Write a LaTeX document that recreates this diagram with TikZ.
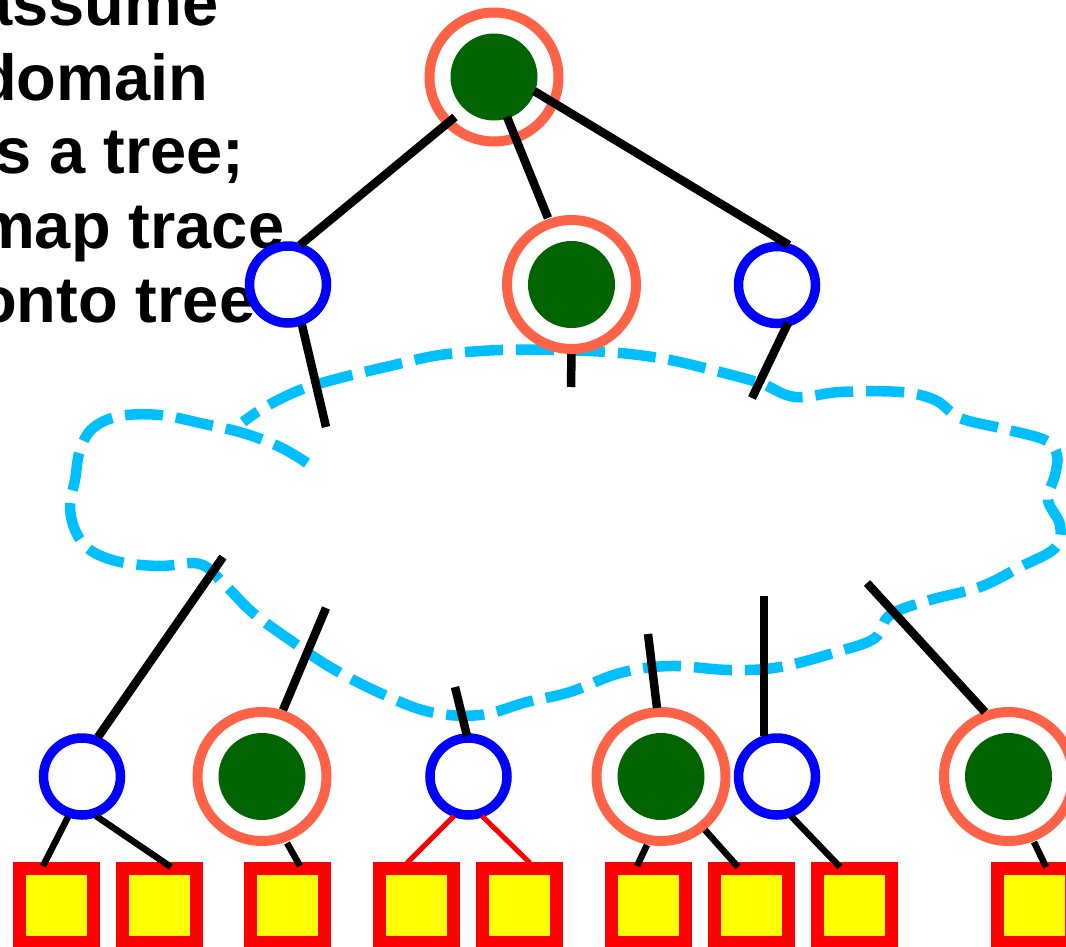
\documentclass[tikz,border=0pt]{standalone}
\usepackage{fontspec}
\setmainfont{Liberation Sans}
\usetikzlibrary{calc}
\definecolor{ringc}{RGB}{255,99,71}
\definecolor{dgreen}{RGB}{0,100,0}
\definecolor{cloudc}{RGB}{0,191,255}
\definecolor{leaffill}{RGB}{255,255,0}
\definecolor{leafred}{RGB}{255,0,0}
\definecolor{nodeblue}{RGB}{0,0,255}
\begin{document}
\begin{tikzpicture}[x=1pt,y=-1pt,
 bnode/.style={circle,draw=nodeblue,fill=white,line width=9.5pt,minimum size=77pt,inner sep=0pt},
 dnode/.style={circle,draw=ringc,fill=white,line width=10pt,minimum size=129pt,inner sep=0pt,
   path picture={\fill[dgreen] (path picture bounding box.center) circle[radius=43.5pt];}},
 leaf/.style={rectangle,draw=leafred,fill=leaffill,line width=13pt,minimum size=74pt,inner sep=0pt},
 edgeA/.style={line width=8.5pt,draw=black},
 edgeB/.style={line width=6.5pt,draw=black},
 edgeR/.style={line width=5pt,draw=leafred},
 tracecloud/.style={draw=cloudc,line width=10.5pt,dash pattern=on 38pt off 13pt},
 lbl/.style={anchor=base west,inner sep=0pt,font=\fontsize{65}{74}\selectfont\bfseries}]
\useasboundingbox (0,0) rectangle (1066,946);
\clip (0,0) rectangle (1066,946);

% text
\node[lbl] (t1) at (-24,25) {assume};
\node[lbl] (t2) at (-23,100) {domain};
\node[lbl] (t3) at (-5,173) {s a tree;};
\node[lbl] (t4) at (-23,248) {map trace};
\node[lbl] (t5) at (-23,322) {onto tree};

% cloud (trace)
\draw[tracecloud] plot[smooth,tension=0.6] coordinates {
 (307,463) (280,447) (243,433) (200,423) (160,415) (120,416) (93,428) (80,450)
 (75,480) (70,505) (75,530) (90,550) (120,562) (160,566) (200,564) (225,585)
 (253,613) (290,640) (330,667) (380,693) (430,712) (480,715) (527,702) (570,692)
 (620,673) (670,666) (730,670) (780,667) (840,651) (875,638) (890,615) (930,600)
 (980,587) (1020,567) (1055,548) (1060,525) (1048,500) (1055,475) (1057,455)
 (1045,440) (1000,428) (960,418) (935,400) (900,392) (840,392) (795,397) (760,383)
 (720,372) (670,360) (620,353) (560,350) (500,350) (440,355) (390,366) (340,378)
 (300,390) (265,407) (243,422)};

% nodes
\node[dnode] (r) at (494,77) {};
\node[bnode] (bL) at (288,284.5) {};
\node[dnode] (dM) at (571.5,284.5) {};
\node[bnode] (bR) at (777,285) {};

\node[bnode] (b1) at (82,776.5) {};
\node[dnode] (d1) at (262,776.5) {};
\node[bnode] (b3) at (468.5,776.5) {};
\node[dnode] (d2) at (661,776.5) {};
\node[bnode] (b4) at (777,776.5) {};
\node[dnode] (d3) at (1008.5,776.5) {};

\node[leaf] (s1) at (56.5,905.5) {};
\node[leaf] (s2) at (159.5,905.5) {};
\node[leaf] (s3) at (287.5,905.5) {};
\node[leaf] (s4) at (416.5,905.5) {};
\node[leaf] (s5) at (519.5,905.5) {};
\node[leaf] (s6) at (648.5,905.5) {};
\node[leaf] (s7) at (751,905.5) {};
\node[leaf] (s8) at (854.5,905.5) {};
\node[leaf] (s9) at (1034.5,905.5) {};

% free ends of edges that disappear into the trace
\coordinate (cL) at (326,427);
\coordinate (cM) at (571,387);
\coordinate (cR) at (752,398);
\coordinate (c1) at (223,557);
\coordinate (c2) at (326,608);
\coordinate (c3) at (455,687);
\coordinate (c4) at (648,634);
\coordinate (c5) at (764,596);
\coordinate (c6) at (867,583);

% upper tree edges
\draw[edgeA] ($(r)+(-39,40)$) -- ($(bL)+(12,-39.5)$);
\draw[edgeA] ($(r)+(13,40)$) -- ($(dM)+(-23.5,-66.5)$);
\draw[edgeA] ($(r)+(40,14)$) -- ($(bR)+(12,-40)$);
\draw[edgeA] ($(bL)+(14,40.5)$) -- (cL);
\draw[edgeA] (dM.south) -- (cM);
\draw[edgeA] ($(bR)+(11,38)$) -- (cR);

% lower tree edges
\draw[edgeA] ($(b1)+(16,-39.5)$) -- (c1);
\draw[edgeA] ($(d1)+(21,-66.5)$) -- (c2);
\draw[edgeA] ($(b3)+(-1.5,-40.5)$) -- (c3);
\draw[edgeA] ($(d2)+(-4,-68.5)$) -- (c4);
\draw[edgeA] ($(b4)+(-13,-40.5)$) -- (c5);
\draw[edgeA] ($(d3)+(-23.5,-64.5)$) -- (c6);

% leaf edges
\draw[edgeB] ($(b1)+(-14,40.5)$) -- ($(s1)+(-13.5,-39.5)$);
\draw[edgeB] ($(b1)+(14,39.5)$) -- ($(s2)+(11.5,-38.5)$);
\draw[edgeB] ($(d1)+(25,66.5)$) -- ($(s3)+(12.5,-39.5)$);
\draw[edgeR] ($(b3)+(-14.5,39.5)$) -- ($(s4)+(-9.5,-42.5)$);
\draw[edgeR] ($(b3)+(13.5,39.5)$) -- ($(s5)+(10.5,-42.5)$);
\draw[edgeB] ($(d2)+(-14,68.5)$) -- ($(s6)+(-11.5,-39.5)$);
\draw[edgeB] ($(d2)+(44,53.5)$) -- ($(s7)+(-13,-38.5)$);
\draw[edgeB] ($(b4)+(14,39.5)$) -- ($(s8)+(-14.5,-38.5)$);
\draw[edgeB] ($(d3)+(25.5,65.5)$) -- ($(s9)+(11.5,-38.5)$);
\end{tikzpicture}
\end{document}
